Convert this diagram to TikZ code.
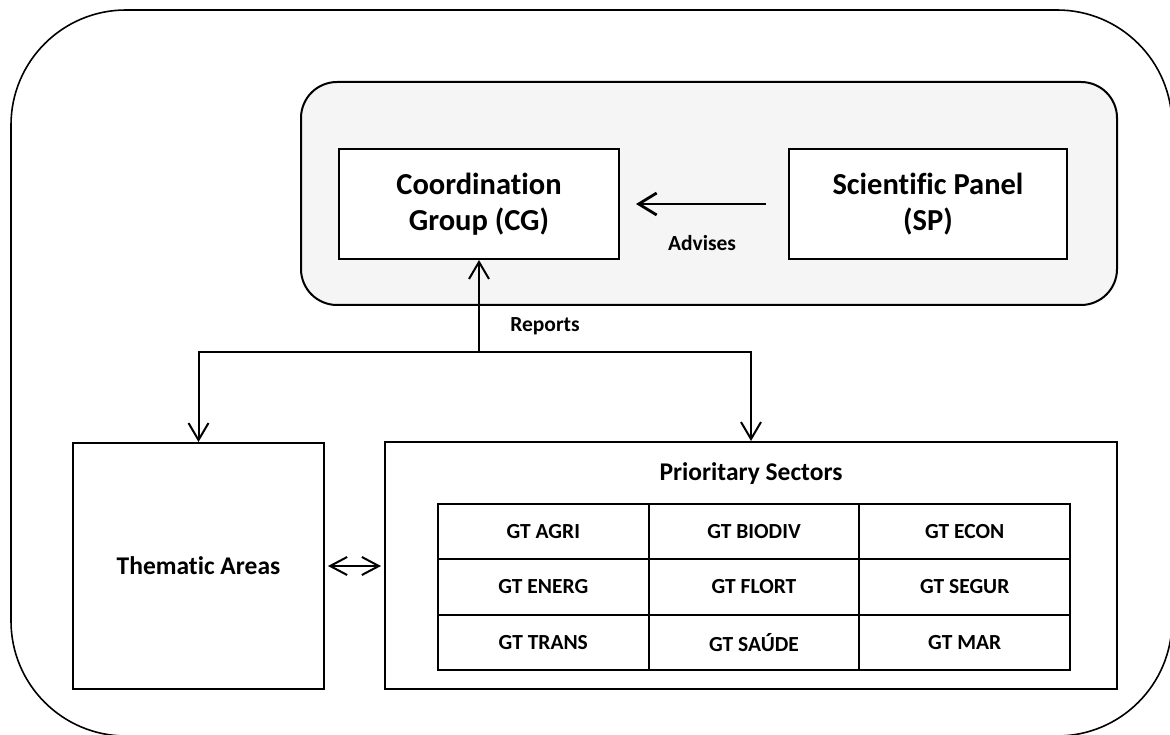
\documentclass[tikz,border=0pt]{standalone}
\usepackage{fontspec}
\setmainfont[Ligatures=NoCommon]{Carlito}
\usetikzlibrary{arrows.meta}
\definecolor{panelgray}{HTML}{F5F5F5}
\begin{document}
\begin{tikzpicture}[x=1pt,y=-1pt,
  box/.style={draw, line width=2pt, inner sep=0pt, fill=white},
  cell/.style={draw, line width=2pt, inner sep=0pt, minimum width=210.7pt, minimum height=55.3pt, font=\fontsize{21.5}{25}\selectfont\bfseries},
  big/.style={font=\fontsize{30.5}{36}\selectfont\bfseries, align=center},
  mid/.style={font=\fontsize{25.5}{30}\selectfont\bfseries, align=center},
  small/.style={font=\fontsize{21.5}{25}\selectfont\bfseries, inner sep=0pt},
  conn/.style={line width=2pt, -{Straight Barb[length=17pt,width=20pt]}},
]
\useasboundingbox (0,0) rectangle (1170,735);
% outer frame
\draw[line width=1.6pt, rounded corners=115pt] (11,10) rectangle (1172,736);
% grey panel
\draw[line width=2pt, fill=panelgray, rounded corners=36pt] (301,82) rectangle (1117,305);
% main boxes
\node[box, big, minimum width=280pt, minimum height=110pt] (cg) at (479,204) {Coordination\\Group (CG)};
\node[box, big, minimum width=278pt, minimum height=110pt] (sp) at (928,204) {Scientific Panel\\(SP)};
\node[box, mid, minimum width=251pt, minimum height=246pt] (th) at (198.5,566) {Thematic Areas};
\node[box, minimum width=732pt, minimum height=247pt] (ps) at (751,565.5) {};
\node[mid, anchor=base] (pst) at (751,480) {Prioritary Sectors};
% table
\node[cell] (c11) at (543.3,531.7) {GT AGRI};
\node[cell] (c12) at (754,531.7) {GT BIODIV};
\node[cell] (c13) at (964.7,531.7) {GT ECON};
\node[cell] (c21) at (543.3,587) {GT ENERG};
\node[cell] (c22) at (754,587) {GT FLORT};
\node[cell] (c23) at (964.7,587) {GT SEGUR};
\node[cell] (c31) at (543.3,642.3) {GT TRANS};
\node[cell] (c32) at (754,642.3) {GT SAÚDE};
\node[cell] (c33) at (964.7,642.3) {GT MAR};
% advises
\coordinate (advs) at ([xshift=-22pt]sp.west);
\coordinate (adve) at ([xshift=16pt]cg.east);
\draw[line width=2.8pt, -{Straight Barb[length=18pt,width=22pt]}] (advs) -- (adve);
\node[small] (adv) at (702,243) {Advises};
% reports
\coordinate (j) at (479,352);
\draw[conn] (j) -- (cg.south);
\draw[conn] (j) -| (th.north);
\draw[conn] (j) -| (ps.north);
\node[small] (rep) at (545,326) {Reports};
% double arrow
\coordinate (da) at ([xshift=3pt]th.east);
\coordinate (db) at ([xshift=-3pt]th.east -| ps.west);
\draw[line width=2pt, {Straight Barb[length=17pt,width=18pt]}-{Straight Barb[length=17pt,width=18pt]}] (da) -- (db);
\end{tikzpicture}
\end{document}
